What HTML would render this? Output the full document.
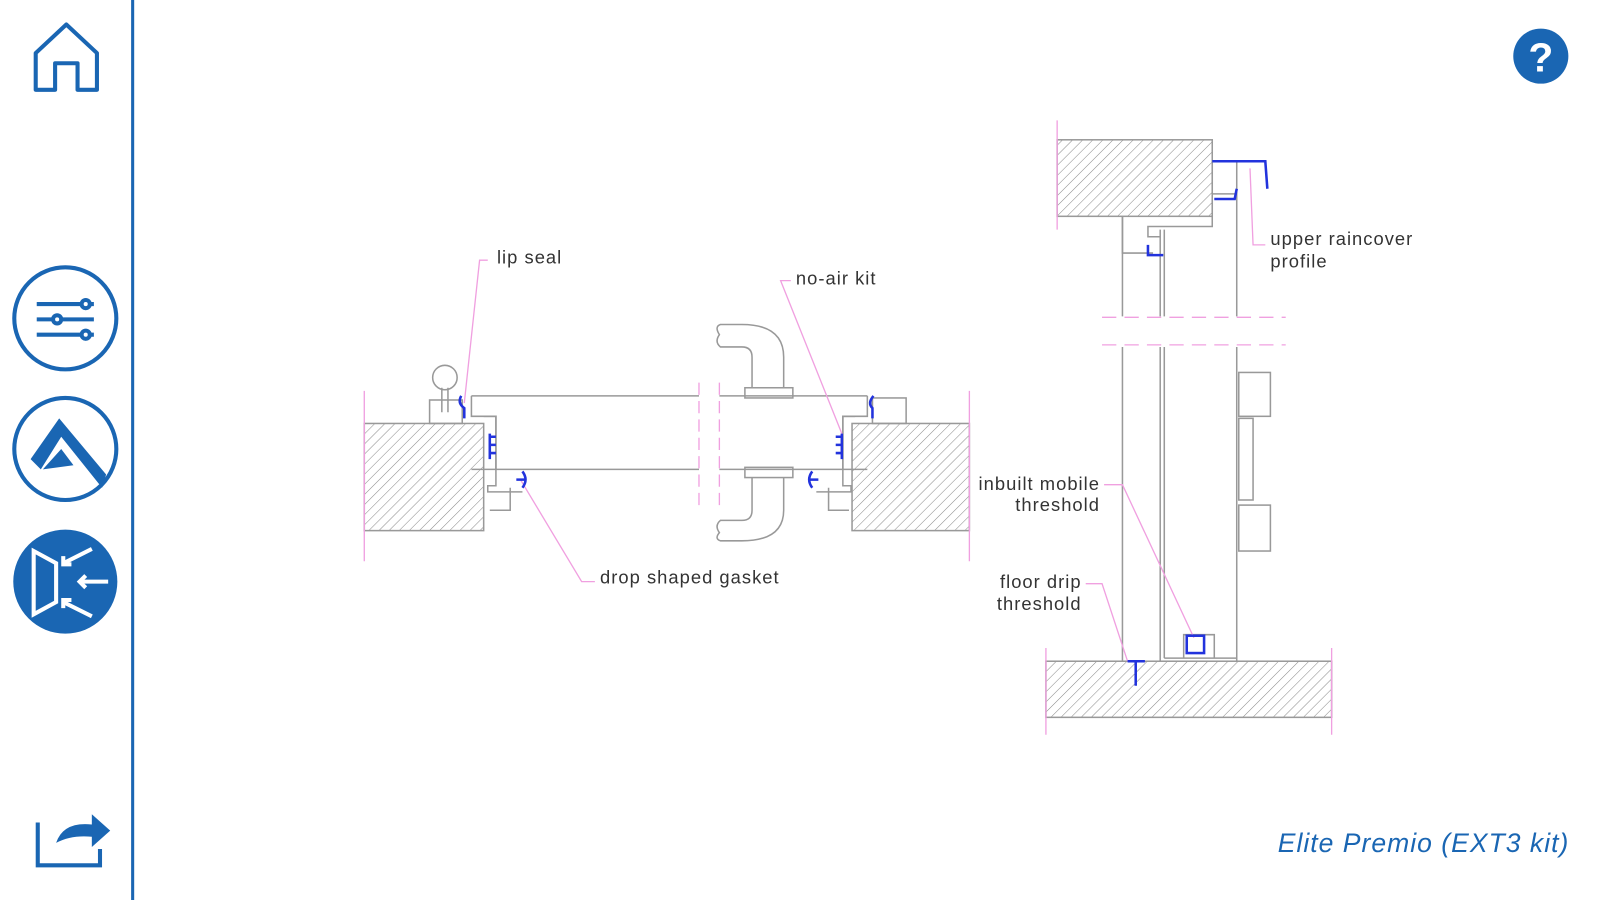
<!DOCTYPE html>
<html><head><meta charset="utf-8"><style>
html,body{margin:0;padding:0;background:#fff;}
svg{display:block;}
text{font-family:"Liberation Sans",sans-serif;}
</style></head><body>
<svg width="1600" height="900" viewBox="0 0 1568 882" xmlns="http://www.w3.org/2000/svg">
<defs>
<pattern id="h" width="7" height="7" patternUnits="userSpaceOnUse" patternTransform="rotate(45)">
<line x1="0" y1="0" x2="0" y2="7" stroke="#888" stroke-width="1"/>
</pattern>
</defs>
<rect width="1568" height="882" fill="#fff"/>
<!-- sidebar -->
<line x1="130" y1="0" x2="130" y2="882" stroke="#1a66b3" stroke-width="3"/>
<path d="M35 88 V52 L65 24 L95 52 V88 H76 V62 H54 V88 Z" fill="none" stroke="#1a66b3" stroke-width="4" stroke-linejoin="round"/>
<circle cx="64" cy="312" r="50" fill="none" stroke="#1a66b3" stroke-width="4"/>
<g stroke="#1a66b3" stroke-width="4" fill="#fff">
<line x1="36" y1="298" x2="92" y2="298"/><line x1="36" y1="313" x2="92" y2="313"/><line x1="36" y1="328" x2="92" y2="328"/>
<circle cx="84" cy="298" r="4"/><circle cx="56" cy="313" r="4"/><circle cx="84" cy="328" r="4"/>
</g>
<circle cx="64" cy="440" r="50" fill="none" stroke="#1a66b3" stroke-width="4"/>
<path d="M30 450 L58 410 L104 465 L100 478 L60 428 L40 460 Z" fill="#1a66b3"/>
<path d="M42 460 L60 440 L72 456 Z" fill="#1a66b3"/>
<circle cx="64" cy="570" r="51" fill="#1a66b3"/>
<g stroke="#fff" stroke-width="4" fill="none">
<path d="M33 540 V602 L55 590 V552 Z"/>
<line x1="62" y1="552" x2="90" y2="538"/><path d="M62 545 V553 H70"/>
<line x1="78" y1="570" x2="106" y2="570"/><path d="M84 564 L78 570 L84 576"/>
<line x1="62" y1="590" x2="90" y2="604"/><path d="M62 596 V588 H70"/>
</g>
<path d="M37 806 V848 H98 V832" fill="none" stroke="#1a66b3" stroke-width="4"/>
<path d="M55 826 Q62 805 90 808 V798 L108 814 L90 830 V820 Q70 818 55 826 Z" fill="#1a66b3"/>
<!-- help -->
<circle cx="1510" cy="55" r="27" fill="#1a66b3"/>
<text x="1510" y="70" font-size="40" font-weight="bold" fill="#fff" text-anchor="middle">?</text>
<text x="1538" y="835" font-size="26" font-style="italic" fill="#1a66b3" text-anchor="end" letter-spacing="1">Elite Premio (EXT3 kit)</text>

<!-- left drawing -->
<g stroke="#999" stroke-width="1.5" fill="none">
<rect x="357" y="415" width="117" height="105" fill="url(#h)"/>
<rect x="835" y="415" width="115" height="105" fill="url(#h)"/>
<path d="M462 388 H685 M462 460 H685 M705 388 H850 M705 460 H850"/>
<path d="M462 388 V408 H486 V460"/>
<path d="M474 408 H486 V476 H478 V482 H512 M480 500 H500 V478"/>
<path d="M850 388 V408 H826 V460"/>
<path d="M838 408 H826 V476 H834 V482 H800 M832 500 H812 V478"/>
<rect x="421" y="392" width="32" height="23"/>
<circle cx="436" cy="370" r="12"/>
<path d="M433 380 V404 M439 380 V404"/>
<rect x="855" y="390" width="33" height="25"/>
<rect x="730" y="380" width="47" height="10"/><rect x="730" y="458" width="47" height="10"/>
<path d="M737 380 V350 Q737 340 727 340 H706 Q700 335 705 328 Q700 320 706 318 H727 Q768 318 768 350 V380"/>
<path d="M737 468 V500 Q737 510 727 510 H706 Q700 515 705 522 Q700 528 706 530 H727 Q768 530 768 500 V468"/>
</g>
<g stroke="#f0a0e0" stroke-width="1.3" fill="none">
<path d="M357 383 V550 M950 383 V550"/>
<path d="M685 375 V500 M705 375 V500" stroke-dasharray="12 6"/>
<path d="M478 255 H470 L455 395"/>
<path d="M775 275 H765 L825 425"/>
<path d="M583 570 H570 L510 470"/>
</g>
<g stroke="#2233dd" stroke-width="2.5" fill="none">
<path d="M452 388 Q448 395 455 400 V410"/>
<path d="M480 425 V450 M480 428 h6 M480 436 h6 M480 444 h6"/>
<path d="M512 462 Q518 470 512 478 M506 470 h8"/>
<path d="M856 388 Q850 395 855 400 V410"/>
<path d="M825 425 V450 M825 428 h-6 M825 436 h-6 M825 444 h-6"/>
<path d="M796 462 Q790 470 796 478 M802 470 h-8"/>
</g>
<g font-size="18" fill="#333" letter-spacing="1">
<text x="487" y="258">lip seal</text>
<text x="780" y="279">no-air kit</text>
<text x="588" y="572">drop shaped gasket</text>
</g>

<!-- right drawing -->
<g stroke="#999" stroke-width="1.5" fill="none">
<rect x="1036" y="137" width="152" height="75" fill="url(#h)"/>
<rect x="1025" y="648" width="280" height="55" fill="url(#h)"/>
<path d="M1100 212 V310 M1100 340 V648 M1137 225 V310 M1137 340 V648 M1141 225 V310 M1141 340 V645 M1212 158 V310 M1212 340 V648"/>
<path d="M1188 158 H1212 M1188 190 H1212 M1188 158 V222 H1125 V232 H1137"/>
<path d="M1100 212 V248 H1130"/>
<path d="M1141 645 H1212 M1160 645 V622 H1190 V645"/>
<rect x="1214" y="365" width="31" height="43"/><rect x="1214" y="410" width="14" height="80"/><rect x="1214" y="495" width="31" height="45"/>
</g>
<g stroke="#f0a0e0" stroke-width="1.3" fill="none">
<path d="M1036 118 V225 M1025 635 V720 M1305 635 V720"/>
<path d="M1080 311 H1260 M1080 338 H1260" stroke-dasharray="14 8"/>
<path d="M1240 240 H1228 L1225 165"/>
<path d="M1082 475 H1100 L1170 625"/>
<path d="M1064 572 H1080 L1105 648"/>
</g>
<g stroke="#2233dd" stroke-width="2.5" fill="none">
<path d="M1188 158 H1240 L1242 185"/>
<path d="M1190 195 H1210 L1212 185"/>
<path d="M1125 240 V250 H1140"/>
<rect x="1163" y="623" width="17" height="17"/>
<path d="M1105 648 H1122 M1113 648 V672"/>
</g>
<g font-size="18" fill="#333" letter-spacing="1">
<text x="1245" y="240">upper raincover</text>
<text x="1245" y="262">profile</text>
<text x="1078" y="480" text-anchor="end">inbuilt mobile</text>
<text x="1078" y="501" text-anchor="end">threshold</text>
<text x="1060" y="576" text-anchor="end">floor drip</text>
<text x="1060" y="598" text-anchor="end">threshold</text>
</g>
</svg>
</body></html>
